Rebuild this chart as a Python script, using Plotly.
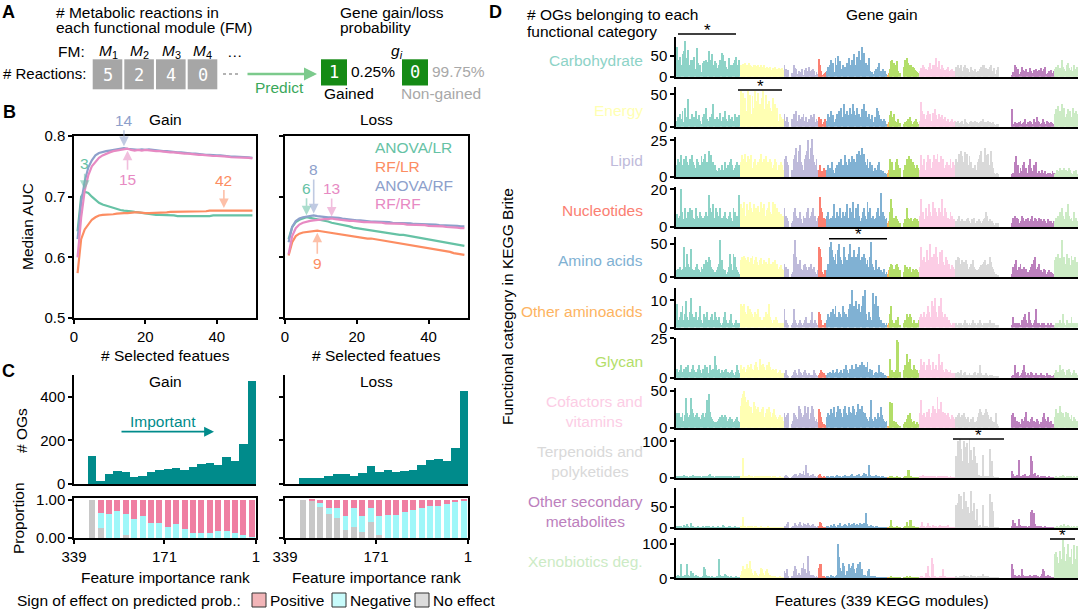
import plotly.graph_objects as go

W, H = 1080, 611
FONT = "Liberation Sans, Arial, Helvetica, sans-serif"
MONO = "DejaVu Sans Mono, Liberation Mono, monospace"

# ---------------- Panel A data ----------------
fm_labels = ["<i>M</i><sub>1</sub>", "<i>M</i><sub>2</sub>", "<i>M</i><sub>3</sub>", "<i>M</i><sub>4</sub>"]
fm_reactions = [5, 2, 4, 0]
gain_prob = ["0.25%", "99.75%"]

# ---------------- Panel B data ----------------
n_features = list(range(1, 51))
gain_anova_lr = [0.643, 0.700, 0.708, 0.706, 0.700, 0.695, 0.690, 0.687, 0.685, 0.683,
                 0.681, 0.679, 0.678, 0.677, 0.677, 0.676, 0.675, 0.674, 0.673, 0.672,
                 0.671, 0.671, 0.670, 0.670, 0.670, 0.669, 0.669, 0.669, 0.668, 0.668,
                 0.668, 0.667, 0.667, 0.667, 0.667, 0.668, 0.668, 0.668, 0.669, 0.669,
                 0.669, 0.670, 0.670, 0.670, 0.670, 0.670, 0.670, 0.670, 0.670, 0.669]
gain_rf_lr = [0.574, 0.630, 0.646, 0.655, 0.662, 0.666, 0.669, 0.670, 0.670, 0.671,
              0.671, 0.672, 0.673, 0.673, 0.673, 0.674, 0.674, 0.674, 0.673, 0.673,
              0.673, 0.673, 0.674, 0.674, 0.674, 0.674, 0.675, 0.675, 0.675, 0.675,
              0.676, 0.676, 0.676, 0.676, 0.676, 0.676, 0.676, 0.677, 0.677, 0.677,
              0.677, 0.678, 0.677, 0.677, 0.677, 0.677, 0.677, 0.677, 0.677, 0.677]
gain_anova_rf = [0.630, 0.690, 0.725, 0.748, 0.760, 0.768, 0.772, 0.774, 0.775, 0.776,
                 0.777, 0.778, 0.779, 0.780, 0.779, 0.778, 0.777, 0.777, 0.778, 0.777,
                 0.778, 0.777, 0.776, 0.776, 0.775, 0.775, 0.774, 0.774, 0.773, 0.773,
                 0.772, 0.772, 0.771, 0.771, 0.770, 0.770, 0.769, 0.769, 0.768, 0.768,
                 0.768, 0.767, 0.767, 0.766, 0.766, 0.766, 0.765, 0.765, 0.765, 0.764]
gain_rf_rf = [0.600, 0.665, 0.710, 0.735, 0.750, 0.758, 0.764, 0.768, 0.771, 0.773,
              0.775, 0.776, 0.777, 0.778, 0.779, 0.777, 0.776, 0.777, 0.776, 0.777,
              0.776, 0.776, 0.775, 0.775, 0.774, 0.774, 0.773, 0.773, 0.772, 0.772,
              0.771, 0.771, 0.770, 0.770, 0.769, 0.769, 0.768, 0.768, 0.767, 0.767,
              0.767, 0.766, 0.766, 0.765, 0.765, 0.765, 0.764, 0.764, 0.764, 0.763]
loss_anova_lr = [0.630, 0.650, 0.658, 0.662, 0.664, 0.666, 0.665, 0.664, 0.663, 0.662,
                 0.660, 0.659, 0.657, 0.656, 0.655, 0.653, 0.652, 0.651, 0.649, 0.648,
                 0.647, 0.646, 0.645, 0.645, 0.644, 0.643, 0.642, 0.641, 0.640, 0.639,
                 0.638, 0.637, 0.637, 0.636, 0.635, 0.634, 0.633, 0.632, 0.631, 0.630,
                 0.629, 0.628, 0.627, 0.626, 0.625, 0.624, 0.623, 0.621, 0.620, 0.619]
loss_rf_lr = [0.603, 0.625, 0.635, 0.639, 0.641, 0.642, 0.643, 0.643, 0.644, 0.643,
              0.642, 0.641, 0.640, 0.639, 0.638, 0.637, 0.637, 0.636, 0.635, 0.634,
              0.633, 0.632, 0.631, 0.631, 0.630, 0.629, 0.628, 0.627, 0.627, 0.626,
              0.625, 0.624, 0.623, 0.622, 0.621, 0.620, 0.619, 0.618, 0.617, 0.615,
              0.614, 0.613, 0.612, 0.611, 0.610, 0.609, 0.607, 0.606, 0.605, 0.604]
loss_anova_rf = [0.625, 0.650, 0.660, 0.664, 0.666, 0.667, 0.668, 0.669, 0.668, 0.667,
                 0.667, 0.666, 0.666, 0.666, 0.665, 0.664, 0.663, 0.662, 0.662, 0.661,
                 0.661, 0.660, 0.660, 0.659, 0.659, 0.659, 0.658, 0.658, 0.658, 0.657,
                 0.657, 0.657, 0.656, 0.656, 0.656, 0.655, 0.655, 0.655, 0.655, 0.655,
                 0.654, 0.654, 0.653, 0.653, 0.653, 0.652, 0.652, 0.652, 0.651, 0.651]
loss_rf_rf = [0.605, 0.635, 0.648, 0.654, 0.657, 0.659, 0.660, 0.661, 0.662, 0.662,
              0.663, 0.663, 0.664, 0.663, 0.662, 0.662, 0.661, 0.660, 0.660, 0.659,
              0.659, 0.658, 0.658, 0.658, 0.657, 0.657, 0.657, 0.656, 0.656, 0.656,
              0.655, 0.655, 0.655, 0.654, 0.654, 0.654, 0.653, 0.653, 0.653, 0.652,
              0.652, 0.651, 0.651, 0.651, 0.650, 0.650, 0.649, 0.649, 0.648, 0.648]
method_names = ["ANOVA/LR", "RF/LR", "ANOVA/RF", "RF/RF"]
# optimal feature numbers marked with arrows
gain_best_k = [3, 42, 14, 15]
loss_best_k = [6, 9, 8, 13]

# ---------------- Panel C data ----------------
rank_ticks = [339, 171, 1]
rank_bin_top = 313
rank_bin_width = 15.6
gain_og_counts = [129, 14, 45, 60, 54, 31, 38, 54, 65, 71, 75, 65, 80, 92, 95, 88, 122, 106, 185, 472]
loss_og_counts = [26, 26, 29, 38, 48, 45, 37, 49, 83, 54, 63, 57, 60, 65, 86, 111, 114, 106, 165, 426]
gain_no_effect = [1.00, 0.27, 0, 0, 0.07, 0, 0, 0, 0, 0, 0, 0, 0, 0, 0, 0, 0, 0, 0, 0]
gain_negative = [0, 0.38, 0.62, 0.70, 0.56, 0.49, 0.57, 0.40, 0.40, 0.28,
                 0.36, 0.23, 0.13, 0.13, 0.14, 0.18, 0.17, 0.13, 0.07, 0.02]
gain_positive = [0, 0.35, 0.38, 0.30, 0.37, 0.51, 0.43, 0.60, 0.60, 0.72,
                 0.64, 0.77, 0.87, 0.87, 0.86, 0.82, 0.83, 0.87, 0.93, 0.98]
loss_no_effect = [1.00, 0.98, 0.81, 0.62, 0.51, 0.20, 0.29, 0.15, 0.41, 0.09,
                  0, 0, 0, 0, 0, 0, 0, 0, 0, 0]
loss_negative = [0, 0, 0.11, 0.16, 0.26, 0.37, 0.49, 0.42, 0.37, 0.49,
                 0.60, 0.60, 0.68, 0.74, 0.77, 0.83, 0.83, 0.88, 0.93, 0.98]
loss_positive = [0, 0.02, 0.08, 0.22, 0.23, 0.43, 0.22, 0.43, 0.22, 0.42,
                 0.40, 0.40, 0.32, 0.26, 0.23, 0.17, 0.17, 0.12, 0.07, 0.02]
effect_names = ["Positive", "Negative", "No effect"]

# ---------------- Panel D data ----------------
categories = ["Carbohydrate", "Energy", "Lipid", "Nucleotides", "Amino acids", "Other aminoacids",
              "Glycan", "Cofactors and<br>vitamins", "Terpenoids and<br>polyketides",
              "Other secondary<br>metabolites", "Xenobiotics deg."]
module_counts = [54, 37, 29, 7, 51, 2, 25, 31, 38, 45, 20]
row_ticks = [50, 50, 25, 20, 50, 10, 25, 50, 100, 50, 100]
row_ymax = [96.6, 61.7, 27.3, 21.2, 60.2, 14.8, 25.5, 53.6, 109, 95, 116.6]

carbohydrate_og = [
    [72, 40, 35, 48, 30, 55, 62, 88, 45, 38, 66, 30, 42, 25, 40, 48, 20, 70, 35, 30,
     28, 12, 35, 38, 30, 40, 36, 62, 34, 42, 55, 30, 38, 35, 22, 18, 30, 40, 58, 52,
     30, 38, 25, 20, 45, 30, 12, 28, 35, 40, 48, 15, 30, 42],
    [30, 28, 32, 25, 35, 30, 28, 33, 30, 27, 25, 30, 28, 22, 26, 30, 24, 28, 20, 25,
     28, 22, 25, 20, 22, 24, 18, 22, 20, 25, 18, 20, 22, 18, 20, 22, 18],
    [28, 20, 15, 18, 0, 0, 10, 5, 30, 22, 20, 8, 15, 12, 10, 20, 5, 18, 22, 15,
     12, 25, 15, 18, 20, 15, 5, 12, 8],
    [44, 30, 15, 5, 8, 10, 12],
    [15, 25, 30, 40, 20, 35, 12, 45, 30, 50, 25, 38, 20, 30, 15, 25, 20, 35, 45, 30,
     25, 40, 28, 55, 30, 48, 35, 62, 40, 72, 45, 58, 30, 35, 28, 45, 15, 10, 12, 8,
     15, 20, 10, 25, 35, 15, 12, 20, 10, 15, 8],
    [5, 10],
    [20, 38, 40, 35, 30, 25, 38, 15, 10, 0, 0, 0, 25, 40, 45, 35, 28, 20, 30, 25,
     22, 18, 15, 12, 10],
    [15, 22, 18, 30, 25, 20, 12, 18, 25, 35, 20, 28, 22, 30, 45, 25, 38, 20, 15, 28,
     22, 18, 12, 20, 25, 15, 18, 20, 10, 15, 12],
    [25, 30, 22, 20, 28, 15, 25, 30, 18, 22, 20, 12, 25, 18, 10, 15, 20, 12, 15, 8,
     20, 25, 28, 30, 18, 22, 15, 20, 25, 28, 12, 15, 22, 8, 18, 25, 0, 0],
    [0, 0, 0, 0, 0, 0, 0, 0, 0, 5, 12, 30, 25, 15, 20, 8, 12, 25, 18, 10,
     15, 20, 12, 8, 22, 15, 10, 18, 12, 20, 15, 10, 18, 22, 12, 15, 20, 25, 8, 10,
     15, 12, 18, 10, 15],
    [20, 25, 15, 30, 22, 18, 40, 25, 20, 15, 28, 35, 22, 18, 25, 15, 30, 20, 12, 25],
]
energy_og = [
    [10, 15, 8, 20, 12, 25, 8, 30, 15, 10, 43, 12, 8, 20, 10, 15, 25, 8, 12, 18,
     10, 5, 15, 20, 8, 30, 12, 10, 15, 8, 20, 35, 12, 10, 15, 8, 12, 22, 10, 15,
     8, 25, 12, 10, 18, 8, 12, 15, 10, 20, 8, 15, 12, 18],
    [55, 40, 52, 30, 45, 25, 55, 35, 50, 20, 48, 30, 55, 25, 40, 52, 35, 30, 45, 55,
     28, 50, 35, 20, 40, 30, 25, 45, 20, 35, 15, 30, 10, 20, 15, 10, 12],
    [20, 10, 15, 8, 0, 0, 12, 5, 20, 15, 25, 10, 18, 12, 8, 15, 20, 10, 15, 8,
     5, 12, 18, 10, 15, 20, 8, 12, 10],
    [15, 10, 12, 5, 8, 12, 10],
    [10, 20, 15, 25, 10, 18, 8, 12, 20, 15, 25, 10, 30, 15, 35, 20, 12, 25, 18, 30,
     15, 20, 35, 25, 18, 30, 12, 20, 15, 28, 22, 35, 18, 25, 15, 20, 10, 12, 18, 8,
     15, 10, 30, 25, 18, 12, 10, 8, 12, 10, 5],
    [5, 8],
    [18, 25, 15, 20, 10, 5, 8, 12, 6, 0, 0, 0, 5, 8, 10, 12, 8, 15, 10, 5,
     8, 10, 12, 8, 5],
    [10, 38, 25, 15, 20, 12, 18, 25, 15, 20, 10, 22, 15, 28, 18, 12, 20, 15, 10, 18,
     12, 15, 8, 10, 12, 8, 10, 12, 8, 6, 10],
    [8, 10, 6, 5, 8, 10, 5, 12, 8, 6, 5, 8, 10, 5, 8, 6, 10, 8, 5, 6,
     8, 10, 12, 8, 5, 8, 6, 10, 8, 5, 6, 8, 5, 3, 5, 4, 0, 0],
    [0, 0, 0, 0, 0, 0, 0, 0, 0, 28, 5, 8, 4, 6, 5, 8, 10, 5, 6, 8,
     12, 5, 8, 6, 10, 8, 5, 12, 8, 6, 15, 10, 8, 5, 6, 12, 8, 5, 10, 8,
     6, 5, 8, 6, 5],
    [20, 28, 15, 32, 25, 18, 35, 22, 30, 15, 20, 28, 18, 25, 15, 30, 22, 18, 25, 20],
]
lipid_og = [
    [8, 12, 5, 10, 15, 8, 12, 6, 14, 10, 8, 12, 5, 15, 10, 8, 6, 12, 10, 5,
     8, 14, 10, 12, 16, 8, 10, 18, 12, 15, 6, 10, 8, 5, 3, 4, 6, 5, 8, 3,
     5, 10, 6, 8, 5, 10, 12, 8, 5, 6, 8, 10, 5, 8],
    [10, 15, 8, 12, 16, 10, 14, 8, 12, 15, 6, 10, 12, 8, 5, 10, 12, 16, 10, 8,
     12, 14, 6, 10, 8, 12, 10, 6, 8, 12, 10, 5, 8, 6, 10, 8, 5],
    [12, 14, 10, 8, 0, 0, 5, 3, 12, 15, 20, 10, 18, 22, 10, 8, 5, 12, 15, 18,
     25, 12, 20, 26, 15, 10, 8, 12, 5],
    [5, 8, 3, 4, 6, 2, 5],
    [5, 8, 6, 4, 10, 5, 3, 6, 8, 5, 10, 6, 12, 8, 5, 15, 10, 8, 12, 6,
     10, 14, 8, 12, 10, 16, 12, 18, 15, 20, 12, 16, 10, 8, 12, 6, 10, 5, 8, 4,
     6, 5, 3, 8, 10, 5, 3, 4, 2, 3, 2],
    [3, 5],
    [12, 8, 10, 5, 3, 10, 12, 8, 6, 0, 0, 0, 5, 8, 12, 10, 14, 8, 12, 10,
     8, 6, 5, 8, 6],
    [5, 15, 8, 6, 12, 5, 10, 15, 8, 12, 6, 10, 15, 8, 12, 16, 10, 8, 14, 10,
     12, 6, 8, 10, 5, 8, 12, 6, 10, 8, 5],
    [12, 10, 16, 8, 18, 14, 10, 17, 12, 16, 8, 14, 10, 5, 6, 3, 8, 5, 10, 12,
     15, 18, 10, 8, 20, 15, 12, 16, 8, 18, 10, 6, 3, 2, 3, 2, 0, 0],
    [0, 0, 0, 0, 0, 0, 0, 0, 0, 2, 3, 10, 14, 5, 8, 3, 6, 4, 8, 10,
     5, 6, 3, 8, 12, 6, 4, 8, 5, 10, 3, 2, 4, 3, 5, 2, 3, 4, 2, 3,
     2, 3, 2, 4, 3],
    [2, 3, 5, 4, 6, 3, 5, 4, 6, 5, 3, 4, 6, 5, 3, 2, 4, 3, 5, 2],
]
nucleotides_og = [
    [7, 5, 3, 6, 20, 8, 4, 10, 5, 3, 8, 10, 6, 9, 5, 4, 10, 6, 3, 5,
     8, 6, 5, 3, 6, 8, 6, 17, 10, 8, 6, 12, 5, 10, 8, 6, 4, 10, 5, 3,
     6, 8, 5, 4, 6, 8, 5, 3, 10, 8, 5, 6, 4, 17],
    [12, 8, 10, 13, 6, 12, 9, 8, 13, 10, 8, 12, 6, 10, 9, 11, 8, 13, 7, 10,
     12, 6, 9, 10, 13, 8, 7, 13, 9, 12, 6, 10, 8, 5, 7, 4, 6],
    [10, 6, 5, 3, 0, 0, 2, 3, 8, 10, 6, 5, 3, 8, 4, 2, 6, 5, 3, 8,
     10, 5, 6, 8, 10, 4, 6, 3, 5],
    [6, 16, 10, 8, 5, 3, 4],
    [6, 8, 4, 5, 3, 6, 12, 5, 8, 4, 6, 10, 5, 8, 3, 6, 8, 12, 5, 10,
     6, 8, 13, 5, 10, 8, 12, 6, 3, 5, 8, 10, 6, 4, 13, 8, 10, 5, 3, 6,
     4, 5, 8, 10, 6, 18, 5, 8, 6, 4, 5],
    [2, 3],
    [8, 15, 10, 5, 3, 6, 4, 3, 2, 0, 0, 0, 2, 4, 10, 5, 3, 4, 5, 3,
     4, 5, 3, 4, 3],
    [6, 15, 5, 8, 4, 10, 6, 5, 12, 8, 6, 13, 5, 10, 8, 6, 10, 5, 8, 15,
     6, 10, 8, 3, 5, 4, 8, 6, 3, 4, 2],
    [3, 4, 6, 3, 2, 4, 3, 2, 3, 4, 5, 3, 2, 4, 3, 5, 2, 3, 2, 4,
     3, 2, 3, 4, 5, 8, 6, 3, 4, 2, 3, 2, 1, 2, 1, 2, 0, 0],
    [0, 0, 0, 0, 0, 0, 0, 0, 0, 2, 5, 6, 3, 5, 4, 2, 3, 6, 5, 3,
     2, 4, 5, 3, 2, 4, 6, 3, 5, 4, 2, 3, 5, 4, 3, 2, 4, 3, 2, 4,
     3, 2, 3, 2, 3],
    [3, 5, 4, 6, 8, 5, 10, 6, 4, 8, 5, 12, 6, 4, 5, 3, 8, 4, 5, 3],
]
amino_acids_og = [
    [10, 12, 8, 15, 10, 12, 45, 15, 10, 35, 20, 15, 42, 12, 8, 10, 15, 20, 12, 10,
     8, 15, 12, 20, 18, 25, 22, 30, 25, 15, 12, 10, 8, 5, 10, 15, 20, 55, 25, 12,
     8, 10, 5, 8, 15, 35, 20, 10, 35, 30, 15, 10, 8, 5],
    [25, 30, 20, 32, 28, 25, 30, 22, 18, 28, 32, 20, 25, 30, 22, 18, 25, 28, 20, 15,
     25, 22, 18, 20, 28, 15, 20, 22, 18, 25, 15, 20, 12, 15, 18, 12, 10],
    [20, 15, 10, 12, 0, 0, 5, 8, 35, 55, 30, 20, 15, 25, 12, 10, 18, 20, 15, 10,
     8, 15, 20, 12, 10, 15, 8, 5, 10],
    [45, 42, 30, 8, 5, 10, 8],
    [10, 20, 45, 52, 40, 30, 25, 35, 20, 40, 50, 30, 25, 20, 45, 30, 15, 25, 35, 50,
     20, 30, 25, 40, 30, 20, 35, 45, 25, 30, 20, 35, 28, 20, 25, 15, 30, 52, 20, 15,
     10, 25, 12, 8, 15, 10, 5, 8, 12, 5, 8],
    [5, 10],
    [15, 20, 18, 12, 5, 18, 20, 15, 10, 0, 0, 0, 8, 18, 15, 12, 10, 15, 8, 12,
     10, 8, 12, 10, 8],
    [15, 45, 20, 25, 30, 22, 40, 25, 18, 50, 30, 22, 35, 25, 45, 30, 20, 38, 25, 40,
     22, 18, 30, 25, 15, 20, 12, 18, 15, 10, 12],
    [25, 30, 28, 20, 15, 25, 22, 18, 25, 20, 12, 15, 20, 18, 25, 15, 12, 10, 8, 12,
     15, 18, 20, 22, 25, 15, 18, 20, 30, 22, 15, 12, 8, 5, 3, 2, 0, 0],
    [0, 0, 0, 0, 0, 0, 0, 0, 0, 5, 15, 20, 25, 10, 8, 15, 20, 12, 8, 15,
     10, 12, 8, 5, 10, 15, 20, 25, 30, 12, 8, 15, 20, 10, 5, 8, 12, 10, 5, 8,
     10, 5, 8, 6, 5],
    [25, 30, 20, 35, 28, 22, 55, 25, 30, 20, 35, 22, 28, 18, 32, 25, 20, 30, 15, 22],
]
other_aminoacids_og = [
    [9, 3, 2, 4, 6, 8, 3, 5, 10, 4, 3, 6, 11, 5, 3, 4, 6, 3, 2, 4,
     8, 3, 2, 5, 3, 4, 6, 3, 2, 4, 5, 3, 6, 4, 2, 3, 4, 2, 1, 2,
     4, 6, 3, 2, 1, 3, 5, 2, 1, 2, 3, 2, 1, 2],
    [9, 8, 4, 9, 6, 5, 8, 3, 7, 6, 5, 4, 6, 3, 5, 7, 4, 3, 2, 3,
     4, 6, 5, 3, 9, 4, 3, 2, 3, 2, 4, 3, 2, 1, 2, 1, 2],
    [7, 3, 2, 1, 0, 0, 1, 2, 7, 3, 2, 1, 2, 3, 2, 1, 2, 3, 4, 2,
     1, 2, 3, 6, 2, 1, 3, 2, 1],
    [6, 5, 3, 1, 1, 2, 1],
    [3, 5, 4, 6, 3, 7, 5, 8, 4, 3, 6, 5, 4, 8, 6, 3, 5, 4, 7, 9,
     5, 14, 6, 8, 10, 7, 5, 9, 6, 8, 12, 7, 14, 5, 3, 6, 4, 3, 2, 13,
     9, 12, 5, 8, 4, 3, 2, 1, 2, 1, 2],
    [1, 2],
    [5, 8, 3, 2, 1, 3, 2, 4, 1, 0, 0, 0, 2, 3, 5, 4, 3, 5, 4, 2,
     3, 2, 1, 2, 3],
    [4, 5, 4, 3, 6, 4, 5, 8, 6, 4, 10, 5, 8, 11, 6, 4, 8, 5, 11, 6,
     4, 5, 3, 4, 2, 3, 2, 1, 2, 1, 2],
    [2, 1, 2, 1, 2, 1, 2, 3, 1, 2, 1, 2, 1, 2, 3, 1, 2, 1, 2, 1,
     3, 2, 1, 2, 1, 2, 1, 2, 3, 1, 2, 1, 2, 1, 1, 1, 0, 0],
    [0, 0, 0, 0, 0, 0, 0, 0, 0, 1, 4, 2, 1, 2, 1, 2, 1, 3, 2, 4,
     5, 3, 2, 6, 3, 2, 1, 2, 3, 7, 2, 1, 2, 1, 2, 1, 2, 1, 1, 2,
     1, 1, 2, 1, 1],
    [1, 2, 1, 2, 3, 2, 1, 5, 2, 1, 3, 2, 1, 2, 4, 2, 1, 2, 1, 2],
]
glycan_og = [
    [6, 4, 3, 5, 8, 4, 6, 3, 7, 5, 8, 4, 3, 6, 8, 5, 4, 3, 6, 8,
     5, 3, 6, 4, 8, 5, 7, 3, 8, 5, 4, 6, 14, 8, 5, 4, 6, 3, 5, 4,
     3, 5, 6, 4, 3, 2, 4, 5, 3, 2, 4, 8, 5, 3],
    [8, 6, 5, 7, 4, 6, 8, 5, 7, 9, 6, 5, 8, 10, 7, 5, 12, 8, 6, 9,
     7, 5, 8, 6, 10, 7, 5, 6, 4, 5, 6, 3, 4, 5, 3, 2, 3],
    [3, 5, 2, 1, 0, 0, 1, 2, 4, 5, 3, 2, 6, 4, 3, 2, 4, 5, 3, 2,
     1, 3, 2, 1, 2, 5, 3, 2, 1],
    [2, 3, 5, 4, 3, 2, 1],
    [2, 3, 4, 2, 3, 5, 3, 4, 6, 3, 2, 4, 5, 3, 6, 4, 8, 5, 3, 6,
     4, 8, 5, 6, 9, 4, 7, 5, 8, 10, 6, 8, 5, 7, 10, 4, 6, 3, 5, 2,
     3, 4, 2, 3, 8, 4, 2, 3, 1, 2, 1],
    [1, 1],
    [12, 3, 5, 4, 3, 5, 24, 23, 4, 0, 0, 0, 5, 8, 15, 10, 8, 12, 6, 5,
     8, 6, 4, 5, 3],
    [5, 12, 8, 6, 10, 5, 8, 6, 12, 8, 5, 10, 6, 4, 8, 5, 15, 8, 6, 10,
     5, 4, 6, 5, 3, 4, 5, 3, 2, 3, 2],
    [3, 4, 2, 3, 5, 2, 3, 4, 2, 1, 2, 3, 2, 1, 2, 3, 4, 2, 3, 2,
     8, 3, 2, 1, 2, 3, 2, 1, 2, 1, 2, 1, 1, 1, 1, 1, 0, 0],
    [0, 0, 0, 0, 0, 0, 0, 0, 0, 1, 2, 8, 3, 2, 4, 1, 2, 3, 5, 8,
     4, 2, 3, 1, 2, 4, 3, 2, 1, 3, 2, 1, 2, 3, 2, 1, 2, 1, 3, 2,
     1, 2, 1, 1, 2],
    [3, 5, 2, 4, 8, 5, 3, 6, 4, 2, 5, 3, 6, 4, 2, 3, 5, 2, 3, 2],
]
cofactors_og = [
    [20, 18, 20, 12, 15, 20, 10, 18, 40, 20, 15, 18, 40, 25, 20, 15, 18, 20, 10, 15,
     12, 18, 20, 15, 12, 20, 38, 45, 22, 15, 12, 10, 8, 5, 8, 10, 12, 15, 18, 12,
     15, 18, 15, 10, 12, 15, 10, 12, 8, 10, 12, 15, 10, 8],
    [30, 40, 45, 50, 42, 35, 38, 30, 25, 28, 20, 35, 30, 25, 18, 28, 22, 20, 25, 28,
     15, 20, 25, 18, 28, 22, 15, 20, 25, 18, 15, 12, 15, 18, 12, 15, 10],
    [20, 15, 18, 20, 0, 0, 5, 10, 20, 18, 15, 12, 30, 25, 20, 15, 18, 30, 20, 15,
     28, 12, 20, 30, 25, 15, 10, 12, 8],
    [25, 22, 15, 8, 5, 3, 4],
    [15, 20, 18, 25, 12, 20, 28, 15, 22, 30, 18, 25, 20, 15, 25, 30, 20, 18, 28, 22,
     15, 20, 30, 25, 18, 22, 32, 20, 25, 30, 22, 18, 20, 15, 12, 10, 15, 38, 12, 10,
     15, 12, 10, 20, 15, 28, 18, 12, 10, 8, 10],
    [2, 3],
    [35, 34, 33, 10, 5, 8, 6, 4, 3, 0, 0, 0, 5, 8, 12, 18, 15, 20, 12, 8,
     10, 6, 5, 8, 5],
    [20, 38, 15, 18, 20, 15, 22, 18, 25, 15, 20, 30, 18, 25, 20, 42, 25, 20, 35, 18,
     22, 20, 15, 18, 20, 15, 12, 18, 15, 12, 10],
    [15, 18, 20, 15, 12, 18, 20, 15, 10, 12, 15, 8, 12, 10, 15, 5, 8, 10, 15, 20,
     25, 22, 18, 15, 20, 25, 22, 18, 12, 15, 10, 5, 8, 20, 5, 3, 0, 0],
    [0, 0, 0, 0, 0, 0, 0, 0, 0, 18, 20, 15, 8, 10, 6, 8, 5, 12, 10, 8,
     15, 22, 10, 8, 5, 12, 15, 10, 8, 6, 12, 10, 5, 8, 6, 15, 20, 12, 10, 15,
     8, 5, 10, 6, 5],
    [15, 25, 18, 20, 30, 22, 18, 20, 15, 22, 18, 20, 15, 12, 18, 10, 15, 12, 8, 10],
]
terpenoids_og = [
    [3, 5, 4, 2, 6, 3, 8, 4, 3, 5, 2, 4, 6, 3, 8, 5, 4, 2, 3, 5,
     4, 2, 3, 4, 5, 3, 6, 8, 10, 5, 4, 3, 2, 3, 4, 2, 3, 5, 4, 2,
     3, 6, 4, 3, 2, 3, 4, 2, 3, 5, 3, 2, 3, 4],
    [5, 3, 55, 5, 4, 6, 3, 8, 4, 5, 3, 2, 4, 5, 3, 6, 4, 3, 2, 3,
     4, 5, 3, 2, 3, 4, 2, 3, 2, 3, 2, 1, 2, 3, 2, 1, 2],
    [5, 8, 3, 2, 0, 0, 2, 3, 8, 10, 12, 5, 8, 15, 6, 10, 18, 8, 35, 12,
     15, 5, 8, 3, 10, 5, 3, 2, 3],
    [8, 12, 5, 2, 3, 1, 2],
    [3, 5, 2, 4, 6, 3, 2, 5, 8, 3, 4, 6, 2, 3, 5, 8, 4, 3, 6, 5,
     8, 10, 4, 6, 3, 8, 5, 12, 6, 4, 8, 15, 5, 10, 6, 35, 8, 5, 3, 6,
     4, 8, 3, 2, 4, 2, 3, 5, 2, 1, 2],
    [1, 2],
    [4, 5, 3, 2, 1, 2, 3, 2, 1, 0, 0, 0, 2, 3, 5, 22, 21, 4, 3, 2,
     1, 2, 1, 2, 1],
    [3, 5, 2, 8, 4, 3, 6, 2, 5, 4, 3, 6, 5, 3, 2, 4, 3, 5, 2, 3,
     6, 4, 2, 3, 1, 2, 3, 1, 2, 1, 2],
    [60, 100, 95, 105, 80, 45, 100, 62, 85, 95, 40, 105, 75, 50, 30, 85, 60, 40, 5, 8,
     3, 5, 62, 4, 3, 6, 2, 3, 80, 5, 45, 3, 2, 1, 2, 1, 0, 0],
    [0, 0, 0, 0, 0, 0, 0, 0, 0, 18, 12, 5, 3, 8, 2, 50, 5, 3, 8, 4,
     12, 3, 5, 2, 8, 60, 45, 10, 15, 5, 3, 8, 2, 4, 3, 5, 2, 3, 1, 2,
     3, 2, 1, 2, 1],
    [2, 3, 1, 2, 5, 3, 2, 8, 4, 2, 3, 5, 2, 3, 6, 2, 3, 1, 2, 3],
]
other_secondary_og = [
    [3, 2, 4, 3, 5, 2, 8, 3, 4, 10, 3, 2, 12, 4, 3, 2, 1, 2, 3, 2,
     1, 2, 3, 2, 1, 5, 4, 3, 2, 1, 2, 3, 2, 1, 2, 3, 2, 1, 2, 6,
     3, 2, 1, 2, 3, 5, 2, 1, 2, 3, 2, 1, 2, 1],
    [4, 3, 25, 5, 3, 2, 4, 3, 2, 5, 3, 2, 4, 3, 2, 1, 2, 3, 2, 1,
     2, 1, 2, 3, 2, 1, 2, 1, 2, 1, 2, 1, 1, 2, 1, 1, 1],
    [3, 5, 10, 15, 0, 0, 2, 3, 5, 12, 8, 5, 10, 14, 8, 5, 12, 10, 8, 5,
     12, 8, 5, 6, 10, 5, 3, 2, 3],
    [5, 15, 12, 3, 2, 1, 2],
    [3, 5, 2, 8, 4, 3, 10, 5, 2, 6, 4, 12, 5, 3, 8, 10, 6, 4, 12, 8,
     5, 10, 6, 12, 8, 10, 5, 8, 12, 10, 6, 12, 8, 35, 10, 5, 3, 6, 4, 3,
     2, 5, 3, 2, 1, 2, 1, 2, 1, 1, 2],
    [1, 1],
    [3, 18, 4, 2, 1, 2, 3, 2, 1, 0, 0, 0, 2, 3, 15, 4, 3, 18, 20, 5,
     3, 2, 1, 2, 1],
    [2, 3, 15, 5, 3, 2, 4, 12, 5, 3, 2, 8, 4, 3, 5, 2, 3, 6, 4, 2,
     3, 5, 2, 3, 8, 2, 1, 2, 1, 2, 1],
    [55, 60, 80, 62, 75, 45, 85, 40, 65, 30, 50, 35, 88, 40, 25, 60, 20, 45, 5, 3,
     8, 2, 55, 4, 2, 3, 5, 2, 80, 3, 62, 40, 2, 1, 2, 1, 0, 0],
    [0, 0, 0, 0, 0, 0, 0, 0, 0, 5, 20, 12, 3, 2, 5, 22, 8, 3, 5, 2,
     4, 3, 2, 5, 3, 38, 42, 35, 10, 5, 3, 2, 4, 3, 2, 1, 2, 3, 2, 1,
     2, 1, 2, 1, 1],
    [2, 1, 3, 2, 5, 8, 3, 2, 10, 4, 2, 6, 3, 2, 5, 2, 3, 1, 2, 5],
]
xenobiotics_og = [
    [5, 10, 3, 2, 40, 5, 3, 8, 2, 42, 10, 5, 20, 3, 15, 5, 8, 3, 5, 2,
     1, 2, 3, 32, 25, 10, 5, 3, 2, 1, 3, 2, 1, 2, 3, 4, 55, 8, 5, 2,
     3, 12, 10, 5, 2, 1, 3, 2, 1, 2, 3, 2, 1, 2],
    [10, 20, 35, 15, 25, 40, 30, 20, 50, 25, 15, 10, 20, 15, 8, 5, 12, 30, 25, 15,
     10, 20, 25, 15, 10, 8, 5, 3, 2, 3, 2, 1, 2, 3, 2, 1, 2],
    [20, 15, 25, 5, 0, 0, 3, 5, 20, 35, 25, 10, 15, 8, 5, 30, 45, 25, 10, 15,
     65, 20, 10, 5, 8, 3, 2, 3, 2],
    [30, 40, 42, 5, 3, 2, 1],
    [3, 5, 2, 8, 4, 3, 2, 5, 10, 100, 60, 30, 20, 45, 35, 10, 5, 20, 40, 30,
     15, 35, 45, 25, 15, 30, 40, 20, 48, 25, 10, 5, 8, 3, 20, 25, 5, 3, 2, 4,
     3, 2, 1, 2, 1, 2, 1, 1, 2, 1, 1],
    [1, 1],
    [2, 3, 1, 2, 1, 2, 1, 2, 1, 0, 0, 0, 1, 2, 3, 1, 2, 3, 2, 1,
     2, 1, 1, 2, 1],
    [2, 3, 5, 2, 1, 15, 8, 35, 3, 2, 58, 40, 5, 3, 2, 1, 2, 3, 5, 2,
     25, 3, 2, 1, 2, 1, 2, 1, 2, 1, 1],
    [3, 2, 1, 5, 2, 3, 8, 4, 2, 3, 5, 2, 8, 3, 2, 5, 3, 2, 4, 2,
     3, 5, 12, 3, 2, 4, 2, 3, 1, 2, 1, 2, 1, 1, 1, 1, 0, 0],
    [0, 0, 0, 0, 0, 0, 0, 0, 0, 40, 25, 8, 5, 3, 2, 10, 5, 25, 8, 3,
     2, 5, 3, 2, 8, 4, 3, 10, 5, 8, 3, 5, 2, 3, 12, 25, 20, 5, 3, 8,
     2, 3, 2, 1, 2],
    [70, 75, 60, 45, 80, 55, 40, 110, 90, 50, 70, 100, 45, 60, 85, 40, 95, 55, 30, 92],
]
d_rows = [carbohydrate_og, energy_og, lipid_og, nucleotides_og, amino_acids_og,
          other_aminoacids_og, glycan_og, cofactors_og, terpenoids_og,
          other_secondary_og, xenobiotics_og]
significant_rows = [0, 1, 4, 8, 10]   # categories enriched (*)

# ---------------- styles ----------------
set2 = ["#66c2a5", "#fc8d62", "#8da0cb", "#e78ac3"]
set2_light = ["rgba(102,194,165,0.55)", "rgba(252,141,98,0.55)",
              "rgba(141,160,203,0.55)", "rgba(231,138,195,0.55)"]
set3 = ["#8dd3c7", "#ffffb3", "#bebada", "#fb8072", "#80b1d3", "#fdb462",
        "#b3de69", "#fccde5", "#d9d9d9", "#bc80bd", "#ccebc5"]
TEAL = "#008b8b"
effect_colors = ["#ef7fa2", "#9ff7f9", "#c8c8c8"]
effect_legend_colors = ["#f2b5b8", "#c8fbfb", "#dcdcdc"]


def px(x):
    return x / W


def py(y):
    return 1 - y / H


annotations = []
shapes = []


def text(x, y, s, size=15.5, color="black", xanchor="center", yanchor="middle", **kw):
    d = dict(x=px(x), y=py(y), xref="paper", yref="paper", text=s, showarrow=False,
             font=dict(family=kw.pop("family", FONT), size=size, color=color),
             xanchor=xanchor, yanchor=yanchor)
    d.update(kw)
    annotations.append(d)


def rect(x0, y0, x1, y1, fill, line_color=None, lw=0):
    shapes.append(dict(type="rect", xref="paper", yref="paper", x0=px(x0), x1=px(x1),
                       y0=py(y1), y1=py(y0), fillcolor=fill,
                       line=dict(color=line_color or fill, width=lw)))


def hline(x0, x1, y, color="black", width=1.5, dash="solid"):
    shapes.append(dict(type="line", xref="paper", yref="paper", x0=px(x0), x1=px(x1),
                       y0=py(y), y1=py(y), line=dict(color=color, width=width, dash=dash)))


def axis(**kw):
    base = dict(showgrid=False, zeroline=False, showline=True, linecolor="black",
                linewidth=1.5, ticks="outside", ticklen=4, tickwidth=1.5, tickcolor="black",
                tickfont=dict(family=FONT, size=15, color="black"), fixedrange=True,
                automargin=False)
    base.update(kw)
    return base


fig = go.Figure()
layout_axes = {}

# ---------------- Panel A ----------------
text(8, 12, "<b>A</b>", size=18)
text(54, 12.5, "# Metabolic reactions in", xanchor="left")
text(54, 27.5, "each functional module (FM)", xanchor="left")
text(338, 12.5, "Gene gain/loss", xanchor="left")
text(338, 27.5, "probability", xanchor="left")
text(87, 51, "FM:", xanchor="right")
fm_x = [108, 139.5, 171, 202.5]
for xc, lab in zip(fm_x, fm_labels):
    text(xc, 51, lab)
text(235, 51, "…")
text(88, 74, "# Reactions:", size=15, xanchor="right")
box_left = [92.7, 124.3, 156, 187.7]
for xl, val in zip(box_left, fm_reactions):
    rect(xl, 59.3, xl + 29.6, 89.3, "#a6a6a6")
    text(xl + 14.8, 74.5, str(val), size=17, color="white", family=MONO)
hline(223, 241, 74, color="#9a9a9a", width=1.5, dash="dot")
annotations.append(dict(x=px(317), y=py(74), xref="paper", yref="paper", ax=-71, ay=0,
                        text="", showarrow=True, arrowhead=2, arrowsize=1.0, arrowwidth=2.6,
                        arrowcolor="#7cca8c"))
text(279, 87.5, "Predict", color="#3aa85a")
rect(321, 59.3, 347, 85.5, "#158a15")
text(334, 72.5, "1", size=17, color="white", family=MONO)
text(349, 71.7, gain_prob[0], xanchor="left")
rect(402, 59.3, 428, 85.5, "#158a15")
text(415, 72.5, "0", size=17, color="white", family=MONO)
text(430, 71.7, gain_prob[1], xanchor="left", color="#a8a8a8")
text(349, 93.5, "Gained")
text(441.5, 93.5, "Non-gained", color="#a8a8a8")
text(397, 51, "<i>g<sub>i</sub></i>")

# ---------------- Panel B ----------------
text(9, 112, "<b>B</b>", size=18)
gain_series = [gain_anova_lr, gain_rf_lr, gain_anova_rf, gain_rf_rf]
loss_series = [loss_anova_lr, loss_rf_lr, loss_anova_rf, loss_rf_rf]
for i in range(4):
    fig.add_trace(go.Scatter(x=n_features, y=gain_series[i], mode="lines",
                             line=dict(color=set2[i], width=2.2), xaxis="x", yaxis="y",
                             name=method_names[i], hoverinfo="skip"))
    fig.add_trace(go.Scatter(x=n_features, y=loss_series[i], mode="lines",
                             line=dict(color=set2[i], width=2.2), xaxis="x2", yaxis="y2",
                             name=method_names[i], hoverinfo="skip"))
b_xdom_gain = [px(74), px(256)]
b_xdom_loss = [px(285), px(468)]
b_ydom = [py(318), py(136)]
layout_axes["xaxis"] = axis(domain=b_xdom_gain, range=[0, 51], tickvals=[0, 20, 40],
                            mirror=True, anchor="y")
layout_axes["yaxis"] = axis(domain=b_ydom, range=[0.5, 0.8], tickvals=[0.5, 0.6, 0.7, 0.8],
                            ticktext=["0.5", "0.6", "0.7", "0.8"], mirror=True, anchor="x")
layout_axes["xaxis2"] = axis(domain=b_xdom_loss, range=[0, 51], tickvals=[0, 20, 40],
                             mirror=True, anchor="y2")
layout_axes["yaxis2"] = axis(domain=b_ydom, range=[0.5, 0.8], tickvals=[0.5, 0.6, 0.7, 0.8],
                             showticklabels=False, mirror=True, anchor="x2")
text(165, 120, "Gain")
text(376, 120, "Loss")
text(27, 227, "Median AUC", textangle=-90)
text(165, 355, "# Selected featues")
text(376, 355, "# Selected featues")
for i, name in enumerate(method_names):
    text(373, 147 + 19 * i, name, color=set2[i], xanchor="left")

gain_offsets = [-28, -30, -28, 31]
loss_offsets = [-29, 33, -46, -30]
for i in range(4):
    for ax_name, ks, series, offs in (("", gain_best_k, gain_series, gain_offsets),
                                      ("2", loss_best_k, loss_series, loss_offsets)):
        k = ks[i]
        annotations.append(dict(x=k, y=series[i][k - 1], xref="x" + ax_name, yref="y" + ax_name,
                                ax=0, ay=offs[i], text=str(k), showarrow=True, arrowhead=2,
                                arrowsize=1.2, arrowwidth=1.6, arrowcolor=set2_light[i],
                                standoff=2, font=dict(family=FONT, size=15.5, color=set2[i])))

# ---------------- Panel C ----------------
text(8, 371, "<b>C</b>", size=18)
bin_centers = [rank_bin_top - rank_bin_width * (i + 0.5) for i in range(len(gain_og_counts))]
fig.add_trace(go.Bar(x=bin_centers, y=gain_og_counts, width=rank_bin_width,
                     marker=dict(color=TEAL, line=dict(width=0)), xaxis="x3", yaxis="y3",
                     hoverinfo="skip"))
fig.add_trace(go.Bar(x=bin_centers, y=loss_og_counts, width=rank_bin_width,
                     marker=dict(color=TEAL, line=dict(width=0)), xaxis="x4", yaxis="y4",
                     hoverinfo="skip"))
prop_width = rank_bin_width * 0.7
for axn, parts in (("5", [gain_no_effect, gain_negative, gain_positive]),
                   ("6", [loss_no_effect, loss_negative, loss_positive])):
    for vals, col in zip(parts, [effect_colors[2], effect_colors[1], effect_colors[0]]):
        fig.add_trace(go.Bar(x=bin_centers, y=vals, width=prop_width,
                             marker=dict(color=col, line=dict(width=0)),
                             xaxis="x" + axn, yaxis="y" + axn, hoverinfo="skip"))
c_hist_ydom = [py(484), py(375)]
c_prop_ydom = [py(538), py(498)]
layout_axes["xaxis3"] = axis(domain=b_xdom_gain, range=[339, 1], showticklabels=False,
                             ticks="", anchor="y3")
layout_axes["yaxis3"] = axis(domain=c_hist_ydom, range=[0, 500], tickvals=[0, 200, 400],
                             anchor="x3")
layout_axes["xaxis4"] = axis(domain=b_xdom_loss, range=[339, 1], showticklabels=False,
                             ticks="", anchor="y4")
layout_axes["yaxis4"] = axis(domain=c_hist_ydom, range=[0, 500], tickvals=[0, 200, 400],
                             showticklabels=False, anchor="x4")
layout_axes["xaxis5"] = axis(domain=b_xdom_gain, range=[339, 1], tickvals=rank_ticks,
                             mirror=True, anchor="y5")
layout_axes["yaxis5"] = axis(domain=c_prop_ydom, range=[0, 1.04], tickvals=[0, 1],
                             ticktext=["0.00", "1.00"], mirror=True, anchor="x5")
layout_axes["xaxis6"] = axis(domain=b_xdom_loss, range=[339, 1], tickvals=rank_ticks,
                             mirror=True, anchor="y6")
layout_axes["yaxis6"] = axis(domain=c_prop_ydom, range=[0, 1.04], tickvals=[0, 1],
                             showticklabels=False, mirror=True, anchor="x6")
text(165, 381, "Gain")
text(376, 381, "Loss")
text(22, 431, "# OGs", textangle=-90)
text(18, 518, "Proportion", textangle=-90)
text(165, 577, "Feature importance rank")
text(376, 577, "Feature importance rank")
text(163, 421, "Important", color=TEAL)
annotations.append(dict(x=px(214), y=py(431.7), xref="paper", yref="paper", ax=-94, ay=0,
                        text="", showarrow=True, arrowhead=2, arrowsize=1.1, arrowwidth=1.8,
                        arrowcolor=TEAL))
text(15, 600, "Sign of effect on predicted prob.:", xanchor="left")
legend_x = [252, 332, 415]
for xl, name, col in zip(legend_x, effect_names, effect_legend_colors):
    rect(xl, 593, xl + 14, 607, col, line_color="#333333", lw=1)
    text(xl + 16, 600, name, xanchor="left")

# ---------------- Panel D ----------------
text(495, 12, "<b>D</b>", size=18)
text(525, 15, "# OGs belonging to each", xanchor="left")
text(525, 32, "functional category", xanchor="left")
text(882, 15, "Gene gain")
text(507, 307, "Functional category in KEGG Brite", textangle=-90)
text(882, 600, "Features (339 KEGG modules)")

errors = []
bar_colors = []
for k, n in enumerate(module_counts):
    bar_colors += [set3[k]] * n
module_idx = list(range(sum(module_counts)))
row_bottom = [76.7 + 50.16 * i for i in range(11)]
for i, row in enumerate(d_rows):
    vals = []
    for k, seg in enumerate(row):
        if len(seg) != module_counts[k]:
            errors.append((i, k, len(seg)))
        vals += seg
    axn = str(7 + i)
    fig.add_trace(go.Bar(x=module_idx, y=vals, width=0.8,
                         marker=dict(color=bar_colors, line=dict(width=0)),
                         xaxis="x" + axn, yaxis="y" + axn, hoverinfo="skip"))
    b = row_bottom[i]
    layout_axes["xaxis" + axn] = axis(domain=[px(676), px(1078)], range=[-0.5, 338.5],
                                      showticklabels=False, ticks="", anchor="y" + axn)
    layout_axes["yaxis" + axn] = axis(domain=[py(b), py(b - 40)], range=[0, row_ymax[i]],
                                      tickvals=[0, row_ticks[i]], anchor="x" + axn)
    text(645, b - 16.5, categories[i], color=set3[i], xanchor="right")
if errors:
    raise ValueError("segment length mismatch: %s" % errors)

star_spans = {0: (678, 736, 34), 1: (738, 782, 90), 4: (829, 887, 238.7),
              8: (953, 1004, 439), 10: (1050, 1075, 539)}
for r in significant_rows:
    x0, x1, yy = star_spans[r]
    hline(x0, x1, yy, width=1.6)
    text((x0 + x1) / 2, yy - 4, "*", size=17)

fig.update_layout(width=W, height=H, margin=dict(l=0, r=0, t=0, b=0, autoexpand=False),
                  paper_bgcolor="white", plot_bgcolor="white", showlegend=False,
                  barmode="stack", bargap=0, annotations=annotations, shapes=shapes,
                  font=dict(family=FONT, size=15, color="black"), **layout_axes)

# remove the default 8px page margin synchronously (so the page is exactly W x H)
page_fix = ("}); document.documentElement.style.margin='0'; document.body.style.margin='0'; "
            "document.body.style.overflow='hidden'; (function(){")
fig.write_html("out.html", config={"displayModeBar": False}, post_script=page_fix)
